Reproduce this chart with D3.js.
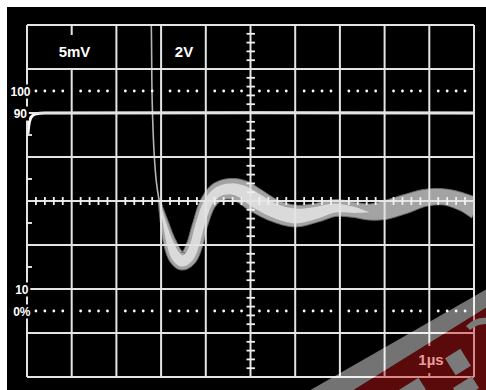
<!DOCTYPE html>
<html>
<head>
<meta charset="utf-8">
<script src="https://cdn.jsdelivr.net/npm/d3@7"></script>
<style>
html,body{margin:0;padding:0;background:#fff;}
svg{display:block;}
text{font-family:"Liberation Sans",Arial,sans-serif;font-weight:bold;}
</style>
</head>
<body>
<div id="chart"></div>
<script>
// ---------- data ----------
// time base: 1 µs / division, 10 divisions; amplitude in % of step (0% .. 100%)
const timeDomain = [0, 10];
const levelDomain = [-30, 130];
const gridTimes = [0,1,2,3,4,5,6,7,8,9,10];
const gridLevels = [-30,-10,10,30,50,70,90,110,130];
const dottedLevels = [0, 100];
const leftTickLevels = [20, 40, 60, 80];
const levelLabels = ["100", "90", "10", "0%"];
const levelLabelValues = [100, 90, 10, 0];
const scaleLabels = ["5mV", "2V", "1\u00b5s"];

// 90% reference trace
const refT = [0.02, 0.05, 0.09, 0.16, 0.29, 0.51, 10];
const refV = [80.5, 85.5, 88.0, 89.3, 89.9, 90, 90];

// fast edge (thin trace) coming down from the top
const leadT = [2.76, 2.78, 2.80, 2.84, 2.89, 2.95];
const leadV = [140, 130, 95.9, 73.2, 59.5, 50.9];

// ringing envelope (persistence band)
const bandT   = [2.95,3.07,3.20,3.33,3.47,3.62,3.74,3.87,4.05,4.27,4.56,4.83,5.10,5.55,6.00,6.44,6.89,7.34,7.67,8.01,8.46,8.90,9.35,9.80,10.06];
const bandMid = [50.9,40.5,30.9,25.0,22.7,24.5,29.5,39.1,49.1,54.1,55.5,54.1,50.5,45.5,43.2,44.5,46.8,45.9,45.0,45.9,48.6,51.4,51.8,49.1,46.4];
const bandOuter = [0.9,3.6,5.9,7.3,8.2,7.7,7.3,6.8,7.3,8.6,9.5,10.5,10.9,10.0,10.0,8.6,7.7,6.8,7.3,8.6,8.6,7.7,7.3,8.2,9.5];
const bandInner = [0,1.4,3.2,4.5,5.0,4.5,4.1,4.1,4.1,4.5,5.0,5.9,6.8,6.4,6.8,5.5,4.1,2.7,0,0,0,0,0,0,0];

// ---------- drawing ----------
const W = 486, H = 390;
const svg = d3.select("#chart").append("svg").attr("width", W).attr("height", H);

svg.append("rect").attr("x", 7).attr("y", 7).attr("width", W - 7).attr("height", H - 7).attr("fill", "#000");

const x = d3.scaleLinear(timeDomain, [27, 474]);
const y = d3.scaleLinear(levelDomain, [377, 25]);

const defs = svg.append("defs");
defs.append("clipPath").attr("id", "grid-clip")
  .append("rect").attr("x", x(0)).attr("y", y(130)).attr("width", x(10) - x(0)).attr("height", y(-30) - y(130));

const traces = svg.append("g").attr("clip-path", "url(#grid-clip)");

function bandPath(ts, mids, widths) {
  const pts = ts.map((t, i) => [x(t), y(mids[i])]);
  const tmp = svg.append("path").attr("d", d3.line().curve(d3.curveCatmullRom.alpha(0.5))(pts)).attr("fill", "none");
  const node = tmp.node();
  const L = node.getTotalLength();
  const N = 500;
  const wScale = d3.scaleLinear(ts, widths).clamp(true);
  const samples = d3.range(N + 1).map(i => node.getPointAtLength(L * i / N));
  const left = [], right = [];
  samples.forEach((p, i) => {
    const a = samples[Math.max(0, i - 1)], b = samples[Math.min(N, i + 1)];
    let dx = b.x - a.x, dy = b.y - a.y;
    const len = Math.hypot(dx, dy) || 1;
    const nx = -dy / len, ny = dx / len;
    const hw = (y(0) - y(wScale(x.invert(p.x)))) / 2;
    left.push([p.x + nx * hw, p.y + ny * hw]);
    right.push([p.x - nx * hw, p.y - ny * hw]);
  });
  tmp.remove();
  return d3.line()(left.concat(right.reverse())) + "Z";
}

// outer persistence band
traces.append("path").attr("d", bandPath(bandT, bandMid, bandOuter))
  .attr("fill", "#a3a3a3").attr("stroke", "#6e6e6e").attr("stroke-width", 1);
// inner (most frequent) band
traces.append("path").attr("d", bandPath(bandT, bandMid, bandInner))
  .attr("fill", "#dadada");

// fast edge thin trace
traces.append("path")
  .attr("d", d3.line().x((d, i) => x(leadT[i])).y(d => y(d)).curve(d3.curveCatmullRom)(leadV))
  .attr("fill", "none").attr("stroke", "#b4b4b4").attr("stroke-width", 1.6);

// 90% reference trace
traces.append("path")
  .attr("d", d3.line().x((d, i) => x(refT[i])).y(d => y(d)).curve(d3.curveCatmullRom)(refV))
  .attr("fill", "none").attr("stroke", "#fff").attr("stroke-width", 3);

// grid
const grid = svg.append("g").attr("stroke", "#e4e4e4").attr("stroke-width", 2);
grid.selectAll("line.v").data(gridTimes).join("line")
  .attr("x1", d => x(d)).attr("x2", d => x(d)).attr("y1", y(130)).attr("y2", y(-30));
grid.selectAll("line.h").data(gridLevels).join("line").attr("class", "h")
  .attr("y1", d => y(d)).attr("y2", d => y(d)).attr("x1", x(0)).attr("x2", x(10));

// centre axes minor ticks
const minorT = d3.range(0, 50).map(k => k / 5).filter((d, k) => k % 5 !== 0);
const minorV = d3.range(0, 40).map(k => -30 + 4 * k).filter((d, k) => k % 5 !== 0);
const ticks = svg.append("g").attr("stroke", "#f0f0f0").attr("stroke-width", 1.8);
ticks.selectAll("line.tx").data(minorT).join("line").attr("class", "tx")
  .attr("x1", d => x(d)).attr("x2", d => x(d)).attr("y1", y(50) - 4).attr("y2", y(50) + 4);
ticks.selectAll("line.ty").data(minorV).join("line").attr("class", "ty")
  .attr("y1", d => y(d)).attr("y2", d => y(d)).attr("x1", x(5) - 4).attr("x2", x(5) + 4.5);
ticks.selectAll("line.tl").data(leftTickLevels).join("line").attr("class", "tl")
  .attr("y1", d => y(d)).attr("y2", d => y(d)).attr("x1", x(0)).attr("x2", x(0) + 5);

// dotted 0% / 100% lines
const dotT = d3.range(0, 50).map(k => k / 5).filter((d, k) => k % 5 !== 0);
dottedLevels.forEach(lv => {
  svg.append("g").selectAll("circle").data(dotT).join("circle")
    .attr("cx", d => x(d)).attr("cy", y(lv)).attr("r", 1.4).attr("fill", "#fff");
});

// labels with black backing boxes
function label(txt, px, py, size, anchor, padX, padY) {
  const g = svg.append("g");
  const bg = g.append("rect").attr("fill", "#000");
  const t = g.append("text").attr("x", px).attr("y", py).attr("fill", "#fff")
    .attr("font-size", size).attr("text-anchor", anchor).attr("dominant-baseline", "central").text(txt);
  const bb = t.node().getBBox();
  bg.attr("x", bb.x - padX).attr("y", bb.y - padY).attr("width", bb.width + 2 * padX).attr("height", bb.height + 2 * padY);
  return g;
}
const labelX = [30.5, 27, 28.5, 30.5];
levelLabels.forEach((s, i) => label(s, labelX[i], y(levelLabelValues[i]) + 0.5, 12, "end", 1.5, 0));
label(scaleLabels[0], 74.5, 51.5, 15, "middle", 2, 8);
label(scaleLabels[1], 184, 51.5, 15, "middle", 2, 4);
label(scaleLabels[2], 431, 359.5, 15, "middle", 2, 5);

// watermark overlay (semi-transparent)
const wm = svg.append("g");
wm.append("path").attr("d", "M300,396 L492,286 L492,304 L344,396 Z").attr("fill", "#fff").attr("opacity", 0.45);
wm.append("path").attr("d", "M344,396 L492,304 L492,396 Z").attr("fill", "rgb(205,22,22)").attr("opacity", 0.44);
wm.append("rect").attr("x", 449).attr("y", 352).attr("width", 18).attr("height", 20)
  .attr("transform", "rotate(-32 458 362)").attr("fill", "#7a7a7a");
wm.append("rect").attr("x", 455).attr("y", 381).attr("width", 22).attr("height", 14)
  .attr("transform", "rotate(-32 466 388)").attr("fill", "#7a7a7a");
wm.append("rect").attr("x", 400).attr("y", 383).attr("width", 24).attr("height", 14)
  .attr("transform", "rotate(-32 412 390)").attr("fill", "#7a7a7a");
wm.append("path").attr("d", "M466,326 Q476,316 488,318 L488,324 Q478,323 470,330 Z").attr("fill", "#7a7a7a");
</script>
</body>
</html>
